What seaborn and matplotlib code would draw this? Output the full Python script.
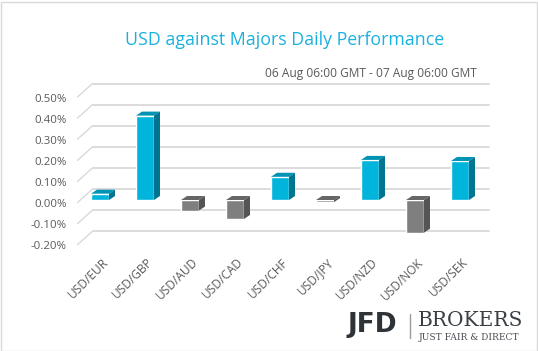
import numpy as np
import pandas as pd
import matplotlib
matplotlib.use("Agg")
import matplotlib.pyplot as plt
import seaborn as sns
from matplotlib.patches import Polygon, Rectangle
from matplotlib.ticker import FuncFormatter
import matplotlib.transforms as mtransforms

# ================= DATA =================
PAIRS = ["USD/EUR", "USD/GBP", "USD/AUD", "USD/CAD", "USD/CHF",
         "USD/JPY", "USD/NZD", "USD/NOK", "USD/SEK"]
CHANGE = [0.03, 0.40, -0.05, -0.09, 0.11, -0.01, 0.19, -0.155, 0.185]
Y_TICKS = [-0.2, -0.1, 0.0, 0.1, 0.2, 0.3, 0.4, 0.5]

TITLE = "USD against Majors Daily Performance"
SUBTITLE = "06 Aug 06:00 GMT - 07 Aug 06:00 GMT"

# ================= STYLE =================
CYAN, CYAN_TOP, CYAN_SIDE = "#00B4DC", "#0093B4", "#00758F"
GRAY, GRAY_TOP, GRAY_SIDE = "#7F7F7F", "#666666", "#555555"
GRID = "#D9D9D9"
TXT = "#595959"

sns.set_theme(style="white")
plt.rcParams["font.family"] = ["Open Sans", "DejaVu Sans"]

W, H = 538, 351
fig = plt.figure(figsize=(W / 100, H / 100), dpi=100)
# axes placed in pixel terms: 0.1% = 21.1 px, one category = 45 px
ax = fig.add_axes([77.5 / W, 1 - 242.2 / H, 405 / W, 147.7 / H])

df = pd.DataFrame({"pair": PAIRS, "change": CHANGE})
df["dir"] = np.where(df["change"] >= 0, "up", "down")

sns.barplot(data=df, x="pair", y="change", hue="dir",
            palette={"up": CYAN, "down": GRAY}, saturation=1,
            dodge=False, width=0.4, legend=False, ax=ax, zorder=3)

ax.set_xlim(-0.5, len(PAIRS) - 0.5)
ax.set_ylim(-0.2, 0.5)

# ================= FAKE 3D =================
# depth of the floor/back wall and of the bars, in data units
gdx, gdy = 15 / 45, 11 / 211
bdx, bdy = 6 / 45, 4 / 211

x0, x1 = ax.get_xlim()
for t in Y_TICKS:
    ax.plot([x0, x0 + gdx], [t - 0.012, t + gdy], color=GRID, lw=1, clip_on=False, zorder=0)
    ax.plot([x0 + gdx, x1 + gdx * 0.4], [t + gdy, t + gdy], color=GRID, lw=1.3,
            clip_on=False, zorder=0)

for p in list(ax.patches):
    bx, bw = p.get_x(), p.get_width()
    bot = min(p.get_y(), p.get_y() + p.get_height())
    top = max(p.get_y(), p.get_y() + p.get_height())
    up = matplotlib.colors.to_hex(p.get_facecolor()).upper() == CYAN.upper()
    c_top = CYAN_TOP if up else GRAY_TOP
    c_side = CYAN_SIDE if up else GRAY_SIDE
    ax.add_patch(Polygon([(bx, top), (bx + bdx, top + bdy), (bx + bw + bdx, top + bdy),
                          (bx + bw, top)], closed=True, fc=c_top, ec="none",
                         zorder=3, clip_on=False))
    ax.add_patch(Polygon([(bx + bw, bot), (bx + bw + bdx, bot + bdy),
                          (bx + bw + bdx, top + bdy), (bx + bw, top)], closed=True,
                         fc=c_side, ec="none", zorder=3, clip_on=False))

# ================= AXES =================
sns.despine(ax=ax, left=True, bottom=True)
ax.set_xlabel("")
ax.set_ylabel("")
ax.set_yticks(Y_TICKS)
ax.yaxis.set_major_formatter(FuncFormatter(lambda v, _: f"{v:.2f}%"))
ax.tick_params(axis="y", length=0, pad=8, labelsize=8.2, labelcolor=TXT)
ax.tick_params(axis="x", length=0, pad=13, labelsize=8.6, labelcolor=TXT)
shift = mtransforms.ScaledTranslation(0, -3 / 100, fig.dpi_scale_trans)
for lab in ax.get_yticklabels():
    lab.set_transform(lab.get_transform() + shift)
shift_x = mtransforms.ScaledTranslation(6 / 100, 0, fig.dpi_scale_trans)
for lab in ax.get_xticklabels():
    lab.set_rotation(45)
    lab.set_ha("right")
    lab.set_va("center")
    lab.set_rotation_mode("anchor")
    lab.set_transform(lab.get_transform() + shift_x)
ax.grid(False)

# ================= TEXT =================
fig.text(285 / W, 1 - 40 / H, TITLE, color="#1BB1DE", fontsize=12.8,
         ha="center", va="center")
fig.text(477 / W, 1 - 73 / H, SUBTITLE, color=TXT, fontsize=8.6,
         ha="right", va="center")

# logo
fig.text(347 / W, 1 - 325 / H, "JFD", color="#2E3338", fontsize=19,
         fontweight="bold", ha="left", va="center", family=["DejaVu Sans"])
fig.add_artist(plt.Line2D([410 / W, 410 / W], [1 - 314 / H, 1 - 338 / H],
                          color="#9A9A9A", lw=1))
fig.text(418 / W, 1 - 321 / H, "BROKERS", color="#3A3F44", fontsize=14.5,
         ha="left", va="center", family=["DejaVu Serif"])
fig.text(419 / W, 1 - 338 / H, "JUST FAIR & DIRECT", color="#4A4F54", fontsize=6.6,
         ha="left", va="center", family=["DejaVu Serif"])

# frame around the picture
fig.add_artist(Rectangle((0.5 / W, 0.5 / H), 1 - 2 / W, 1 - 2 / H,
                         transform=fig.transFigure, fill=False, ec="#D9D9D9", lw=1))

fig.savefig("out.png", dpi=100)
